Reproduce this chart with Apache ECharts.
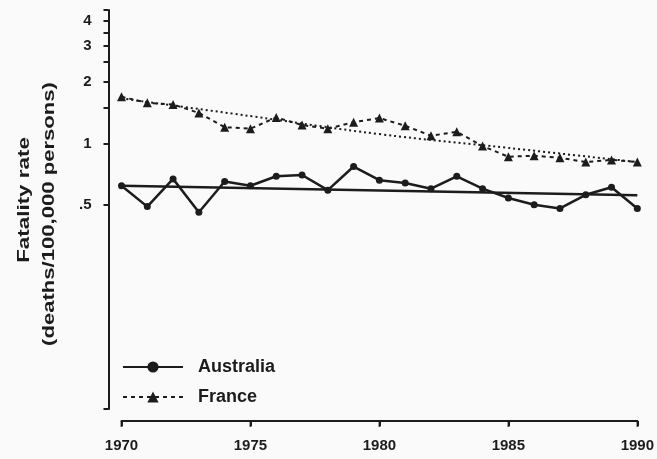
<!DOCTYPE html>
<html>
<head>
<meta charset="utf-8">
<script src="https://cdn.jsdelivr.net/npm/echarts@6/dist/echarts.min.js"></script>
<style>
  html, body { margin: 0; padding: 0; background: #fafafa; }
  #chart { width: 657px; height: 459px; }
</style>
</head>
<body>
<div id="chart"></div>
<script>
// Road fatality rates, deaths per 100,000 persons
const years = [1970, 1971, 1972, 1973, 1974, 1975, 1976, 1977, 1978, 1979, 1980,
               1981, 1982, 1983, 1984, 1985, 1986, 1987, 1988, 1989, 1990];
const australia = [0.62, 0.49, 0.67, 0.46, 0.65, 0.62, 0.69, 0.70, 0.59, 0.77, 0.66,
                   0.64, 0.60, 0.69, 0.60, 0.54, 0.50, 0.48, 0.56, 0.61, 0.48];
const france = [1.69, 1.58, 1.55, 1.41, 1.20, 1.18, 1.34, 1.23, 1.18, 1.27, 1.33,
                1.22, 1.09, 1.14, 0.97, 0.86, 0.87, 0.85, 0.81, 0.83, 0.81];

// Fitted trends
const australiaTrendYears = [1970, 1990];
const australiaTrend = [0.62, 0.557];
const franceTrendYears = [1970, 1975, 1980, 1985, 1990];
const franceTrend = [1.66, 1.36, 1.11, 0.95, 0.81];

// Axis ticks
const xTickYears = [1970, 1975, 1980, 1985, 1990];
const yTickMarks = [0.05, 0.5, 1, 1.5, 2, 2.5, 3, 3.5, 4, 4.5];
const yLabelValues = [0.5, 1, 2, 3, 4];
const yLabelTexts = ['.5', '1', '2', '3', '4'];

const ink = '#1c1c1c';
const fontFamily = '"Liberation Sans", Arial, sans-serif';

const pairs = (xs, ys) => xs.map((x, i) => [x, ys[i]]);
const firstYear = years[0];
const lastYear = years[years.length - 1];

const chart = echarts.init(document.getElementById('chart'), null, { renderer: 'canvas' });

chart.setOption({
  backgroundColor: '#fafafa',
  animation: false,
  grid: [
    // main plot
    { left: 121.5, right: 19.5, top: 10, bottom: 50 },
    // strip holding the detached year axis just below the plot
    { left: 121.5, right: 19.5, top: 400, bottom: 38 }
  ],
  xAxis: [
    {
      type: 'value',
      min: firstYear,
      max: lastYear,
      interval: 5,
      offset: 12,
      axisLine: { show: true, onZero: false, lineStyle: { color: ink, width: 2 } },
      axisTick: { show: true, length: 5, lineStyle: { color: ink, width: 2 } },
      axisLabel: {
        margin: 17,
        color: ink,
        fontWeight: 'bold',
        fontSize: 15,
        fontFamily: fontFamily,
        formatter: v => String(v)
      },
      splitLine: { show: false }
    },
    {
      gridIndex: 1,
      type: 'value',
      min: firstYear,
      max: lastYear,
      show: false
    }
  ],
  yAxis: [
    {
      type: 'log',
      min: 0.05,
      max: 4.5,
      offset: 13,
      axisLine: { show: true, lineStyle: { color: ink, width: 2 } },
      axisTick: { show: true, length: 5, customValues: yTickMarks, lineStyle: { color: ink, width: 2 } },
      axisLabel: {
        margin: 17,
        color: ink,
        fontWeight: 'bold',
        fontSize: 15,
        fontFamily: fontFamily,
        customValues: yLabelValues,
        formatter: v => {
          const i = yLabelValues.findIndex(t => Math.abs(t - v) < 1e-6);
          return i >= 0 ? yLabelTexts[i] : '';
        }
      },
      splitLine: { show: false }
    },
    {
      gridIndex: 1,
      type: 'value',
      min: 0,
      max: 1,
      show: false
    }
  ],
  legend: {
    orient: 'vertical',
    left: 117,
    top: 353,
    itemWidth: 60,
    itemHeight: 14,
    itemGap: 12,
    data: ['Australia', 'France'],
    textStyle: {
      color: ink,
      fontWeight: 'bold',
      fontSize: 18,
      fontFamily: fontFamily,
      padding: [0, 0, 0, 10]
    }
  },
  graphic: [
    {
      type: 'text',
      x: 25,
      y: 200,
      rotation: Math.PI / 2,
      scaleX: 1.4,
      style: {
        text: 'Fatality rate',
        font: 'bold 16px ' + fontFamily,
        fill: ink,
        textAlign: 'center',
        textVerticalAlign: 'middle'
      }
    },
    {
      type: 'text',
      x: 50,
      y: 214,
      rotation: Math.PI / 2,
      scaleX: 1.38,
      style: {
        text: '(deaths/100,000 persons)',
        font: 'bold 16px ' + fontFamily,
        fill: ink,
        textAlign: 'center',
        textVerticalAlign: 'middle'
      }
    }
  ],
  series: [
    {
      name: 'Australia',
      type: 'line',
      data: pairs(years, australia),
      symbol: 'circle',
      symbolSize: 7,
      lineStyle: { color: ink, width: 2.5 },
      itemStyle: { color: ink },
      z: 3
    },
    {
      name: 'France',
      type: 'line',
      data: pairs(years, france),
      symbol: 'triangle',
      symbolSize: 9,
      lineStyle: { color: ink, width: 2, type: [4, 4] },
      itemStyle: { color: ink },
      z: 3
    },
    {
      name: 'Australia trend',
      type: 'line',
      data: pairs(australiaTrendYears, australiaTrend),
      symbol: 'none',
      lineStyle: { color: ink, width: 2.5 },
      z: 2
    },
    {
      name: 'France trend',
      type: 'line',
      data: pairs(franceTrendYears, franceTrend),
      symbol: 'none',
      smooth: 0.4,
      lineStyle: { color: ink, width: 2, type: [2, 3] },
      z: 2
    },
    // year axis baseline, running along the bottom of the lower strip
    {
      name: 'year axis',
      type: 'line',
      xAxisIndex: 1,
      yAxisIndex: 1,
      data: [[firstYear, 0], [lastYear, 0]],
      symbol: 'none',
      clip: false,
      silent: true,
      lineStyle: { color: ink, width: 2 },
      z: 5
    },
    // year axis tick marks hanging below the baseline
    {
      name: 'year ticks',
      type: 'scatter',
      xAxisIndex: 1,
      yAxisIndex: 1,
      data: xTickYears.map(y => [y, 0]),
      symbol: 'rect',
      symbolSize: [2, 6],
      symbolOffset: [0, 3],
      clip: false,
      silent: true,
      itemStyle: { color: ink },
      z: 5
    }
  ]
});
</script>
</body>
</html>
